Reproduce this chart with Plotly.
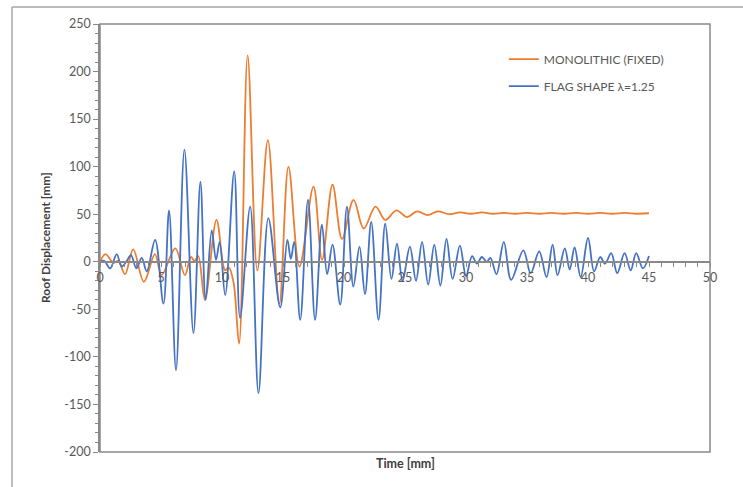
import plotly.graph_objects as go

# Roof displacement time histories (turning points of each response)
mono_t = [0, 0.45, 1.1, 1.5, 2.05, 2.72, 3.6, 4.5, 5.05, 6.17, 6.96, 7.45, 7.75, 8.05, 8.6,
          9.55, 10.25, 10.55, 10.95, 11.4, 12.1, 12.9, 13.76, 14.7, 15.45, 16.35, 17.5,
          18.2, 19.06, 19.84, 20.78, 21.62, 22.58, 23.38, 24.3, 25.15, 26.0, 26.85, 27.7,
          28.6, 29.5, 30.4, 31.3, 32.2, 33.1, 34.0, 35.0, 36.0, 37.0, 38.0, 39.0, 40.0,
          41.0, 42.0, 43.0, 44.0, 45.0]
mono_disp = [0, 8, -1, 1, -13, 13, -21, 8, -14, 14, -14, 5, 1, 6, -40,
             44, -9, -6, -22, -86, 217, -9, 128, -44, 100, -5, 79,
             2, 81, 24, 65, 35, 58, 44, 54, 47, 53, 49, 53,
             50, 52, 50.5, 52, 50.5, 51.5, 50.5, 51.5, 50.5, 51.5, 50.5, 51.5, 50.5,
             51.5, 50.5, 51.5, 50.5, 51]

flag_t = [0, 0.35, 0.83, 1.37, 1.77, 2.15, 2.54, 2.98, 3.42, 3.83, 4.52, 5.2, 5.66, 6.23,
          6.92, 7.66, 8.23, 8.66, 9.16, 9.51, 9.81, 10.26, 11.0, 11.48, 12.31, 12.99,
          13.8, 14.77, 15.36, 15.64, 15.92, 16.41, 17.05, 17.63, 18.19, 18.62, 19.06,
          19.69, 20.24, 20.77, 21.27, 21.72, 22.23, 22.83, 23.38, 23.89, 24.34, 24.8,
          25.4, 25.9, 26.4, 26.9, 27.4, 27.9, 28.4, 28.9, 29.5, 30.0, 30.5, 30.9, 31.3,
          31.7, 32.0, 32.5, 33.1, 33.7, 34.7, 35.3, 36.0, 36.6, 37.1, 37.5, 38.1, 38.5,
          38.9, 39.4, 40.0, 40.5, 41.0, 41.4, 41.9, 42.4, 43.0, 43.5, 43.95, 44.5, 45.0]
flag_disp = [0, 1, -7, 8, -5, 0, 7, -7, 4, -10, 23, -44, 54, -114,
             118, -75, 84, -40, 33, 2, 21, -35, 95, -59, 58, -138,
             46, -48, 23, 3, 21, -61, 65, -61, 39, -13, 18,
             -45, 58, -26, 16, -34, 42, -61, 40, -18, 19, -20,
             16, -20, 21, -24, 18, -25, 24, -18, 17, -15, 6, -2, 5,
             0, 4, -13, 21, -19, 12, -12, 11, -16, 18, -14, 14, -8,
             15, -16, 25, -10, 5, -2, 9, -12, 9, -9, 9, -7, 6]

x_ticks = [0, 5, 10, 15, 20, 25, 30, 35, 40, 45, 50]
y_ticks = [-200, -150, -100, -50, 0, 50, 100, 150, 200, 250]
y_labels = [str(v) for v in y_ticks]

ORANGE = "#ED7D31"
BLUE = "#4472C4"
AXIS = "#898989"
TEXT = "#595959"
FONT = "Lato, 'Open Sans', sans-serif"

fig = go.Figure()
fig.add_trace(go.Scatter(x=mono_t, y=mono_disp, mode="lines", name="MONOLITHIC (FIXED)",
                         legendgroup="a", line=dict(color=ORANGE, width=1.8, shape="spline")))
fig.add_trace(go.Scatter(x=flag_t, y=flag_disp, mode="lines", name="FLAG SHAPE \u03bb=1.25",
                         legendgroup="b", line=dict(color=BLUE, width=1.8, shape="spline")))

zero_pos = 200 / 450  # paper position of y = 0

fig.update_layout(
    width=743, height=487,
    margin=dict(l=100, r=33, t=24, b=35),
    paper_bgcolor="white", plot_bgcolor="white",
    font=dict(family=FONT, size=12.5, color=TEXT),
    showlegend=True,
    legend=dict(x=0.662, y=0.952, xanchor="left", yanchor="top",
                bgcolor="rgba(0,0,0,0)", font=dict(size=12, color=TEXT),
                traceorder="grouped", tracegroupgap=8),
    xaxis=dict(range=[0, 50], tickvals=x_ticks, showgrid=False, zeroline=False,
               anchor="free", position=zero_pos, showline=True, linecolor=AXIS, linewidth=1.5,
               ticks="outside", ticklen=4, tickcolor=AXIS, tickwidth=1,
               minor=dict(dtick=1, ticks="outside", ticklen=4, tickcolor=AXIS, tickwidth=1),
               tickfont=dict(size=12.5, color=TEXT)),
    yaxis=dict(range=[-200, 250], tickvals=y_ticks, ticktext=y_labels,
               showgrid=False, zeroline=False,
               showline=True, linecolor=AXIS, linewidth=1.5,
               ticks="outside", ticklen=5, tickcolor=AXIS, tickwidth=1,
               minor=dict(dtick=10, ticks="outside", ticklen=3, tickcolor=AXIS, tickwidth=1),
               tickfont=dict(size=12.5, color=TEXT)),
    shapes=[
        # plot area frame
        dict(type="rect", xref="paper", yref="paper", x0=0, y0=0, x1=1, y1=1,
             line=dict(color=AXIS, width=1.5), layer="below"),
        # outer chart border
        dict(type="line", xref="paper", yref="paper", x0=-88 / 610, y0=445 / 428,
             x1=643 / 610, y1=445 / 428, line=dict(color="#a6a6a6", width=1.5)),
        dict(type="line", xref="paper", yref="paper", x0=-88 / 610, y0=445 / 428,
             x1=-88 / 610, y1=-40 / 428, line=dict(color="#a6a6a6", width=1.5)),
    ],
    annotations=[
        dict(text="<b>Time [mm]</b>", xref="paper", yref="paper", x=0.5, y=-11 / 428,
             xanchor="center", yanchor="middle", showarrow=False,
             font=dict(size=12.5, color="#404040")),
        dict(text="<b>Roof Displacement [mm]</b>", xref="paper", yref="paper",
             x=-55 / 610, y=0.5, xanchor="center", yanchor="middle", showarrow=False,
             textangle=-90, font=dict(size=12, color="#404040")),
    ],
)

fig.write_html("out.html")
